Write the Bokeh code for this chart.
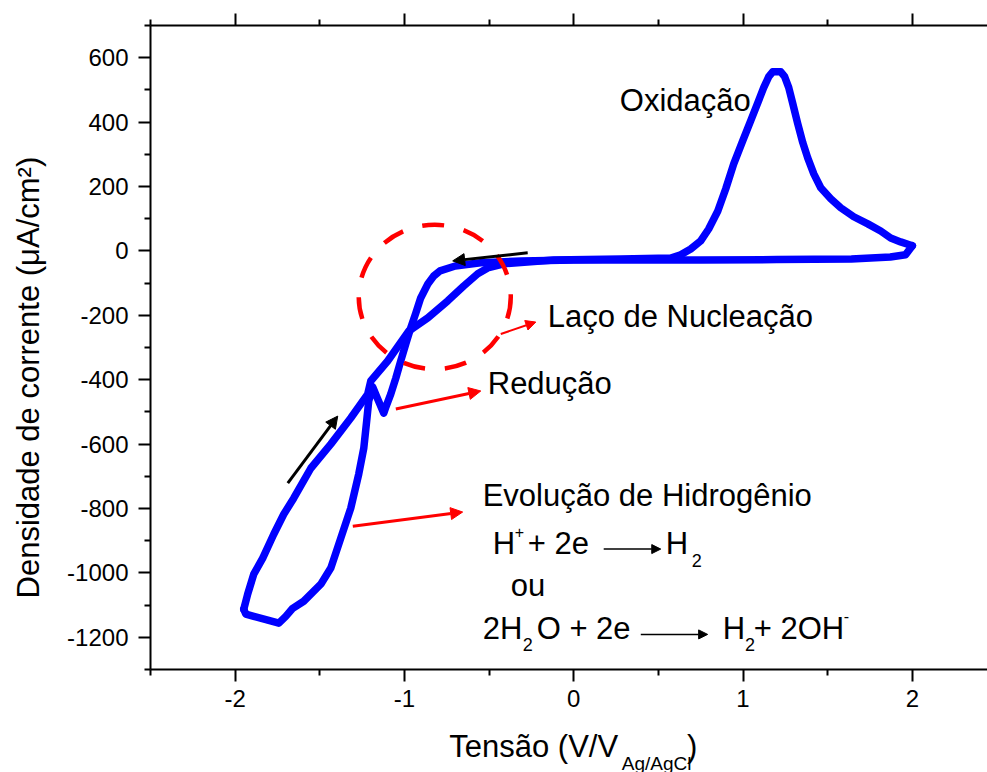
from bokeh.embed import file_html
from bokeh.models import Arrow, FixedTicker, Label, LinearAxis, NormalHead, Range1d
from bokeh.plotting import figure
from bokeh.resources import INLINE

# Voltametria cíclica: varredura catódica (de +2,0 V até -1,95 V)
cat_v = [2.00, 1.96, 1.87, 1.64, 1.20, 0.75, 0.30, 0.00, -0.31, -0.55, -0.70,
         -0.79, -0.827, -0.862, -0.904, -0.933, -0.963, -0.992, -1.022, -1.051,
         -1.081, -1.110, -1.122, -1.158, -1.187, -1.211, -1.223, -1.240, -1.270,
         -1.317, -1.376, -1.435, -1.494, -1.595, -1.660, -1.701, -1.742, -1.807,
         -1.890, -1.937, -1.949]
cat_i = [16, -12, -19, -25, -27, -28, -28, -28, -31, -37, -47,
         -62, -78, -103, -146, -193, -239, -289, -342, -395,
         -445, -485, -504, -460, -423, -466, -528, -612, -693,
         -799, -892, -985, -1035, -1088, -1110, -1135, -1156, -1147,
         -1135, -1128, -1113]

# Varredura anódica (de -1,95 V de volta até +2,0 V)
an_v = [-1.949, -1.926, -1.890, -1.837, -1.772, -1.713, -1.654, -1.553, -1.435,
        -1.317, -1.217, -1.199, -1.099, -0.975, -0.862, -0.744, -0.650, -0.567,
        -0.508, -0.413, -0.118, 0.278, 0.573, 0.632, 0.691, 0.750, 0.797, 0.851,
        0.898, 0.945, 0.998, 1.045, 1.087, 1.122, 1.152, 1.175, 1.223, 1.246,
        1.270, 1.294, 1.323, 1.353, 1.382, 1.418, 1.459, 1.518, 1.577, 1.654,
        1.737, 1.813, 1.872, 1.931, 2.00]
an_i = [-1113, -1066, -1004, -954, -880, -818, -768, -675, -600,
        -519, -445, -404, -342, -249, -208, -155, -109, -71,
        -53, -40, -28, -25, -22, -12, 6, 31, 68, 124,
        193, 270, 342, 404, 460, 507, 541, 556, 556, 541,
        507, 457, 395, 336, 289, 239, 196, 162, 134, 106,
        84, 62, 40, 28, 16]

x_major = [-2, -1, 0, 1, 2]
x_minor = [-2.5, -1.5, -0.5, 0.5, 1.5, 2.5]
x_labels = ["-2", "-1", "0", "1", "2"]
y_major = [-1200, -1000, -800, -600, -400, -200, 0, 200, 400, 600]
y_minor = [-1300, -1100, -900, -700, -500, -300, -100, 100, 300, 500, 700]
y_labels = ["-1200", "-1000", "-800", "-600", "-400", "-200", "0", "200", "400", "600"]

NB = "\u00a0"
FONT = "Liberation Sans"
BLUE = "#0000FF"
RED = "#FF0000"

p = figure(width=987, height=772, output_backend="svg", toolbar_location=None,
           x_range=Range1d(-2.5, 2.444), y_range=Range1d(-1300, 700),
           min_border_left=150, min_border_right=0, min_border_top=25,
           min_border_bottom=103, background_fill_color="white",
           border_fill_color="white")
p.grid.visible = False
p.outline_line_color = None

xax = p.xaxis[0]
yax = p.yaxis[0]
top_axis = LinearAxis()
p.add_layout(top_axis, "above")

xax.ticker = FixedTicker(ticks=x_major, minor_ticks=x_minor)
top_axis.ticker = FixedTicker(ticks=x_major, minor_ticks=x_minor)
yax.ticker = FixedTicker(ticks=y_major, minor_ticks=y_minor)
xax.major_label_overrides = dict(zip(x_major, x_labels))
yax.major_label_overrides = dict(zip(y_major, y_labels))

for ax in (xax, yax, top_axis):
    ax.axis_line_width = 2
    ax.axis_line_color = "black"
    ax.major_tick_line_width = 2
    ax.minor_tick_line_width = 2
    ax.major_tick_line_color = "black"
    ax.minor_tick_line_color = "black"
    ax.major_tick_out = 12
    ax.major_tick_in = 0
    ax.minor_tick_out = 6
    ax.minor_tick_in = 0
    ax.major_label_text_font = FONT
    ax.major_label_text_font_size = "24px"
    ax.major_label_text_color = "black"

xax.major_label_standoff = 8
yax.major_label_standoff = 10

# eixo superior: só as marcas
top_axis.major_label_overrides = {t: "" for t in x_major}
top_axis.major_label_text_font_size = "1px"
top_axis.major_label_standoff = 0

# título do eixo y
yax.axis_label = "Densidade de corrente (μA/cm²)" + NB * 7
yax.axis_label_text_font = FONT
yax.axis_label_text_font_size = "31px"
yax.axis_label_text_font_style = "normal"
yax.axis_label_text_color = "black"
yax.axis_label_standoff = 18

# título do eixo x, com o índice "Ag/AgCl" num segundo eixo sem traços
sub_axis = LinearAxis(ticker=FixedTicker(ticks=[0.49], minor_ticks=[]),
                      major_label_overrides={0.49: "Ag/AgCl"})
p.add_layout(sub_axis, "below")
sub_axis.axis_line_color = None
sub_axis.major_tick_line_color = None
sub_axis.minor_tick_line_color = None
sub_axis.major_tick_out = 0
sub_axis.major_tick_in = 0
sub_axis.minor_tick_out = 0
sub_axis.minor_tick_in = 0
sub_axis.major_label_text_font = FONT
sub_axis.major_label_text_font_size = "19px"
sub_axis.major_label_text_color = "black"
sub_axis.major_label_standoff = 43
sub_axis.axis_label = NB + "Tensão (V/V" + NB * 8 + ")"
sub_axis.axis_label_text_font = FONT
sub_axis.axis_label_text_font_size = "31px"
sub_axis.axis_label_text_font_style = "normal"
sub_axis.axis_label_text_color = "black"
sub_axis.axis_label_standoff = -48

# curva de voltametria
p.line(cat_v, cat_i, line_color=BLUE, line_width=7.5, line_join="round", line_cap="round")
p.line(an_v, an_i, line_color=BLUE, line_width=7.5, line_join="round", line_cap="round")

# círculo tracejado em torno do laço de nucleação
p.ellipse(x=-0.821, y=-143, width=0.898, height=448, fill_color=None,
          line_color=RED, line_width=4.5, line_dash="22 20")


def label(x, y, text, size=31):
    p.add_layout(Label(x=x, y=y, text=text, text_font=FONT,
                       text_font_size=f"{size}px", text_color="black",
                       text_baseline="alphabetic"))


def arrow(x0, y0, x1, y1, color, width, head):
    p.add_layout(Arrow(x_start=x0, y_start=y0, x_end=x1, y_end=y1,
                       line_color=color, line_width=width,
                       end=NormalHead(size=head, fill_color=color, line_color=color)))


# sentido da varredura
arrow(-0.272, -6, -0.715, -31, "black", 3, 12)
arrow(-1.689, -721, -1.394, -513, "black", 3, 12)

# setas vermelhas das anotações
arrow(-0.431, -258, -0.224, -221, RED, 2, 10)
arrow(-1.051, -491, -0.549, -435, RED, 3, 12)
arrow(-1.305, -855, -0.656, -811, RED, 3, 12)

label(0.272, 468, "Oxidação")
label(-0.154, -203, "Laço de Nucleação")
label(-0.508, -412, "Redução")
label(-0.538, -760, "Evolução de Hidrogênio")

# H+ + 2e -> H2
label(-0.478, -909, "H")
label(-0.348, -873, "+", size=16)
label(-0.272, -909, "+ 2e")
arrow(0.177, -926, 0.514, -926, "black", 1.5, 9)
label(0.543, -909, "H")
label(0.697, -963, "2", size=18)

label(-0.372, -1039, "ou")

# 2H2O + 2e -> H2 + 2OH-
label(-0.538, -1173, "2H")
label(-0.301, -1223, "2", size=18)
label(-0.219, -1173, "O + 2e")
arrow(0.396, -1191, 0.791, -1191, "black", 1.5, 9)
label(0.880, -1173, "H")
label(1.012, -1223, "2", size=18)
label(1.063, -1173, "+ 2OH")
label(1.595, -1133, "-", size=16)

open("out.html", "w").write(file_html(p, INLINE))
